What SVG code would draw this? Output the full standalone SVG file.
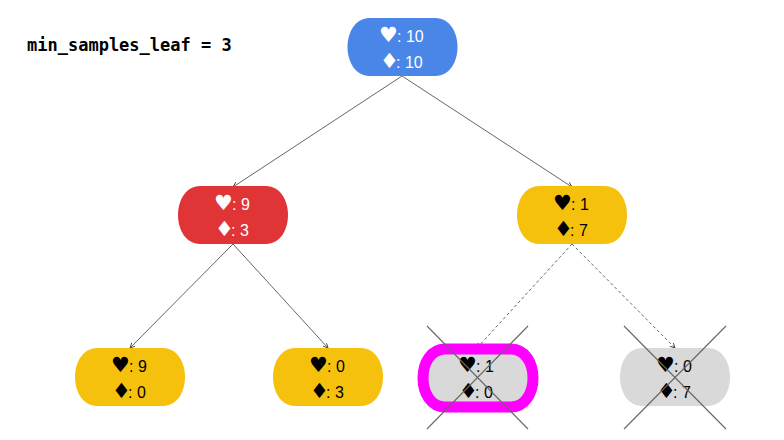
<svg xmlns="http://www.w3.org/2000/svg" width="784" height="440" viewBox="0 0 784 440">
<style>
.t{font-family:"Liberation Sans",Arial,sans-serif;font-size:16px}
.s{font-family:"DejaVu Sans",sans-serif;font-size:21px}
.w{fill:#fff}
.k{fill:#000}
.c{stroke:#555;stroke-width:.9;fill:none;marker-end:url(#a)}
.d{stroke-dasharray:3 2.5}
.x{stroke:#666;stroke-width:1.1}
</style>
<defs>
<marker id="a" markerUnits="userSpaceOnUse" markerWidth="6" markerHeight="6" refX="5" refY="2.5" orient="auto"><path d="M0 0L5 2.5L0 5" fill="none" stroke="#444" stroke-width=".9"/></marker>
<path id="n" d="M22 0H88C102 0 110 14 110 29C110 44 102 58 88 58H22C8 58 0 44 0 29C0 14 8 0 22 0Z"/>
</defs>
<rect width="784" height="440" fill="#fff"/>
<g id="connectors">
<path class="c" d="M402 76L233 187"/>
<path class="c" d="M402 76L572 187"/>
<path class="c" d="M233 244L130 348"/>
<path class="c" d="M233 244L328 348"/>
<path class="c d" d="M572 244L477 348"/>
<path class="c d" d="M572 244L675 348"/>
</g>
<text x="27" y="51" font-family="'DejaVu Sans Mono',monospace" font-weight="700" font-size="17">min_samples_leaf = 3</text>
<g id="node-root"><use href="#n" x="347.500" y="18" fill="#4a86e8"/>
<text class="t w"><tspan class="s" x="379" y="42">♥</tspan><tspan x="397" y="42">: 10</tspan><tspan class="s" x="380" y="68">♦</tspan><tspan x="396" y="68">: 10</tspan></text></g>
<g id="node-left"><use href="#n" x="178" y="186" fill="#e03437"/>
<text class="t w"><tspan class="s" x="214" y="210">♥</tspan><tspan x="232" y="210">: 9</tspan><tspan class="s" x="215" y="236">♦</tspan><tspan x="231" y="236">: 3</tspan></text></g>
<g id="node-right"><use href="#n" x="517" y="186" fill="#f6c10d"/>
<text class="t k"><tspan class="s" x="553" y="210">♥</tspan><tspan x="571" y="210">: 1</tspan><tspan class="s" x="554" y="236">♦</tspan><tspan x="570" y="236">: 7</tspan></text></g>
<g id="node-ll"><use href="#n" x="75" y="348" fill="#f6c10d"/>
<text class="t k"><tspan class="s" x="111" y="372">♥</tspan><tspan x="129" y="372">: 9</tspan><tspan class="s" x="112" y="398">♦</tspan><tspan x="128" y="398">: 0</tspan></text></g>
<g id="node-lr"><use href="#n" x="273" y="348" fill="#f6c10d"/>
<text class="t k"><tspan class="s" x="309" y="372">♥</tspan><tspan x="327" y="372">: 0</tspan><tspan class="s" x="310" y="398">♦</tspan><tspan x="326" y="398">: 3</tspan></text></g>
<g id="node-rl"><use href="#n" x="423" y="349" fill="#d9d9d9" stroke="#ff00ff" stroke-width="11"/>
<text class="t k"><tspan class="s" x="458" y="372">♥</tspan><tspan x="476" y="372">: 1</tspan><tspan class="s" x="459" y="398">♦</tspan><tspan x="475" y="398">: 0</tspan></text>
<path class="x" d="M427 326L528 429M528 326L427 429"/></g>
<g id="node-rr"><use href="#n" x="620" y="348" fill="#d9d9d9"/>
<text class="t k"><tspan class="s" x="656" y="372">♥</tspan><tspan x="674" y="372">: 0</tspan><tspan class="s" x="657" y="398">♦</tspan><tspan x="673" y="398">: 7</tspan></text>
<path class="x" d="M624 326L726 429M726 326L624 429"/></g>
</svg>
